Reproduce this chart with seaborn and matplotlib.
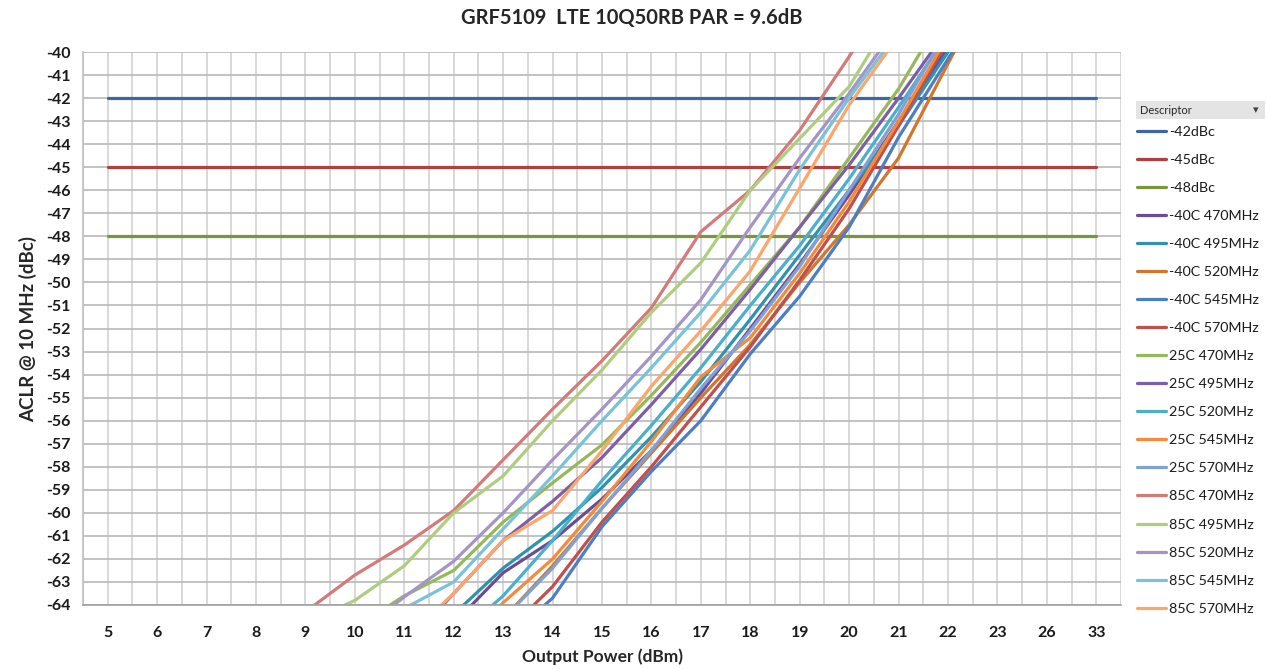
import numpy as np
import pandas as pd
import seaborn as sns
import matplotlib
matplotlib.use("Agg")
import matplotlib.pyplot as plt
from matplotlib.patches import Rectangle

# ---------------- data ----------------
x_labels = ["5", "6", "7", "8", "9", "10", "11", "12", "13", "14", "15", "16",
            "17", "18", "19", "20", "21", "22", "23", "26", "33"]
N = None
ref_42 = [-42.0] * 21
ref_45 = [-45.0] * 21
ref_48 = [-48.0] * 21
#                 5  6  7  8  9      10     11     12     13     14     15     16     17     18     19     20     21     22     23  26 33
m40_470 = [N, N, N, N, N, N, N, -64.8, -62.6, -61.2, -59.4, -57.3, -54.8, -52.0, -49.2, -46.2, -43.0, -39.8, N, N, N]
m40_495 = [N, N, N, N, N, N, N, -64.4, -62.4, -60.8, -58.9, -56.7, -54.3, -51.6, -48.8, -46.0, -43.2, -40.0, -37.0, N, N]
m40_520 = [N, N, N, N, N, N, N, N, -64.6, -62.3, -59.8, -57.4, -55.0, -52.7, -50.0, -47.5, -44.6, -40.5, -36.5, N, N]
m40_545 = [N, N, N, N, N, N, N, N, -65.6, -63.7, -60.6, -58.2, -56.0, -53.1, -50.6, -47.6, -43.7, -40.3, -37.0, N, N]
m40_570 = [N, N, N, N, N, N, N, N, -65.3, -63.2, -60.4, -58.0, -55.4, -52.8, -49.9, -46.8, -43.2, -39.5, N, N, N]
p25_470 = [N, N, N, N, N, -65.0, -63.6, -62.5, -60.4, -58.7, -57.05, -54.9, -52.6, -50.1, -47.6, -44.6, -41.6, -38.0, N, N, N]
p25_495 = [N, N, N, N, N, N, -65.8, -63.5, -61.2, -59.5, -57.6, -55.3, -52.9, -50.3, -47.6, -44.9, -42.0, -39.0, N, N, N]
p25_520 = [N, N, N, N, N, N, N, -65.5, -63.6, -61.2, -58.6, -56.2, -53.7, -51.0, -48.4, -45.5, -42.4, -39.2, N, N, N]
p25_545 = [N, N, N, N, N, N, N, -66.0, -63.9, -62.0, -59.5, -56.9, -54.1, -52.4, -49.6, -46.5, -43.0, -39.3, N, N, N]
p25_570 = [N, N, N, N, N, N, N, N, -64.6, -62.4, -59.8, -57.3, -54.6, -52.1, -49.3, -46.0, -42.7, -39.0, N, N, N]
p85_470 = [N, N, N, -65.6, -64.3, -62.7, -61.4, -59.9, -57.7, -55.5, -53.4, -51.1, -47.8, -46.0, -43.4, -40.2, -37.0, N, N, N, N]
p85_495 = [N, N, N, N, -64.8, -63.8, -62.3, -60.0, -58.4, -56.0, -53.8, -51.3, -49.15, -46.0, -43.75, -41.5, -38.0, N, N, N, N]
p85_520 = [N, N, N, N, N, -65.3, -63.65, -62.1, -60.0, -57.7, -55.5, -53.2, -50.75, -47.6, -44.6, -41.8, -38.8, N, N, N, N]
p85_545 = [N, N, N, N, N, N, -64.15, -63.0, -60.7, -58.4, -56.0, -53.7, -51.3, -48.6, -45.1, -42.0, -39.1, N, N, N, N]
p85_570 = [N, N, N, N, N, N, -65.5, -63.5, -61.2, -59.9, -57.3, -54.5, -52.1, -49.5, -45.9, -42.3, -39.3, N, N, N, N]

series_names = ["-42dBc", "-45dBc", "-48dBc",
                "-40C 470MHz", "-40C 495MHz", "-40C 520MHz", "-40C 545MHz", "-40C 570MHz",
                "25C 470MHz", "25C 495MHz", "25C 520MHz", "25C 545MHz", "25C 570MHz",
                "85C 470MHz", "85C 495MHz", "85C 520MHz", "85C 545MHz", "85C 570MHz"]
series_values = [ref_42, ref_45, ref_48,
                 m40_470, m40_495, m40_520, m40_545, m40_570,
                 p25_470, p25_495, p25_520, p25_545, p25_570,
                 p85_470, p85_495, p85_520, p85_545, p85_570]
colors = ["#3E65A5", "#B0403E", "#77973A",
          "#6A4E92", "#2F93AE", "#D1762C", "#4C7FC2", "#C0504D",
          "#95B85A", "#7D5FA6", "#4BAFCB", "#F58A3A", "#7FA1D8",
          "#D27B79", "#B0CD7F", "#A595C6", "#79C2D8", "#FBA66C"]

rows = []
for name, vals in zip(series_names, series_values):
    for i, v in enumerate(vals):
        if v is not None:
            rows.append({"pos": i, "ACLR": v, "Descriptor": name})
df = pd.DataFrame(rows)

# ---------------- figure ----------------
sns.set_theme(style="white")
plt.rcParams["font.family"] = ["Lato", "DejaVu Sans"]

fig = plt.figure(figsize=(12.67, 6.69), dpi=100)
ax = fig.add_axes([83 / 1267, 1 - 605 / 669, (1121 - 83) / 1267, (605 - 52) / 669])

sns.lineplot(data=df, x="pos", y="ACLR", hue="Descriptor", hue_order=series_names,
             palette=colors, linewidth=2.3, sort=True, estimator=None, ax=ax, legend=True)

ax.set_xlim(-0.5, 20.5)
ax.set_ylim(-64, -40)
ax.set_xticks(range(len(x_labels)))
ax.set_xticklabels(x_labels)
ax.set_xticks(np.arange(-0.5, 21, 1.0), minor=True)
ax.set_yticks(np.arange(-64, -39, 1))
ax.set_yticklabels([str(v) for v in range(-64, -39)])

ax.grid(True, axis="x", which="both", color="#D6D6D6", linewidth=1.3)
ax.grid(True, axis="y", which="major", color="#BDBDBD", linewidth=1.3)
ax.set_axisbelow(True)
for s in ["top", "right"]:
    ax.spines[s].set_visible(False)
ax.spines["left"].set_color("#BFBFBF")
ax.spines["bottom"].set_color("#A0A0A0")
ax.spines["left"].set_linewidth(1.2)
ax.spines["bottom"].set_linewidth(1.2)
ax.tick_params(axis="y", which="major", labelsize=11.5, length=5, color="#BFBFBF", width=1.0, pad=4)
ax.tick_params(axis="x", which="major", labelsize=11.5, length=0, pad=15)
ax.tick_params(axis="x", which="minor", length=0)
for lab in ax.get_xticklabels() + ax.get_yticklabels():
    lab.set_fontweight("bold")
    lab.set_color("#1A1A1A")

ax.set_xlabel("Output Power (dBm)", fontsize=12.5, fontweight="bold", color="#262626", labelpad=6)
ax.set_ylabel("ACLR @ 10 MHz (dBc)", fontsize=13.5, fontweight="bold", color="#262626", labelpad=6)
fig.text(632 / 1267, 1 - 18 / 669, "GRF5109  LTE 10Q50RB PAR = 9.6dB", ha="center", va="center",
         fontsize=14.5, fontweight="bold", color="#262626")

# legend
handles, labels = ax.get_legend_handles_labels()
ax.get_legend().remove()
leg = fig.legend(handles, labels, loc="upper left", bbox_to_anchor=(1137 / 1267, 1 - 126 / 669),
                 frameon=False, fontsize=10.3, handlelength=2.0, handletextpad=0.25,
                 labelspacing=1.12, borderpad=0, borderaxespad=0)
for line in leg.get_lines():
    line.set_linewidth(2.3)
for t in leg.get_texts():
    t.set_color("#1A1A1A")

fig.patches.append(Rectangle((1136 / 1267, 1 - 119 / 669), 129 / 1267, 18 / 669,
                             transform=fig.transFigure, facecolor="#E4E4E4", edgecolor="none"))
fig.text(1140 / 1267, 1 - 110 / 669, "Descriptor", ha="left", va="center", fontsize=8, color="#262626")
fig.text(1256 / 1267, 1 - 110 / 669, "\u25BE", ha="center", va="center", fontsize=8, color="#404040",
         family=["DejaVu Sans"])

fig.savefig("out.png", dpi=100)
